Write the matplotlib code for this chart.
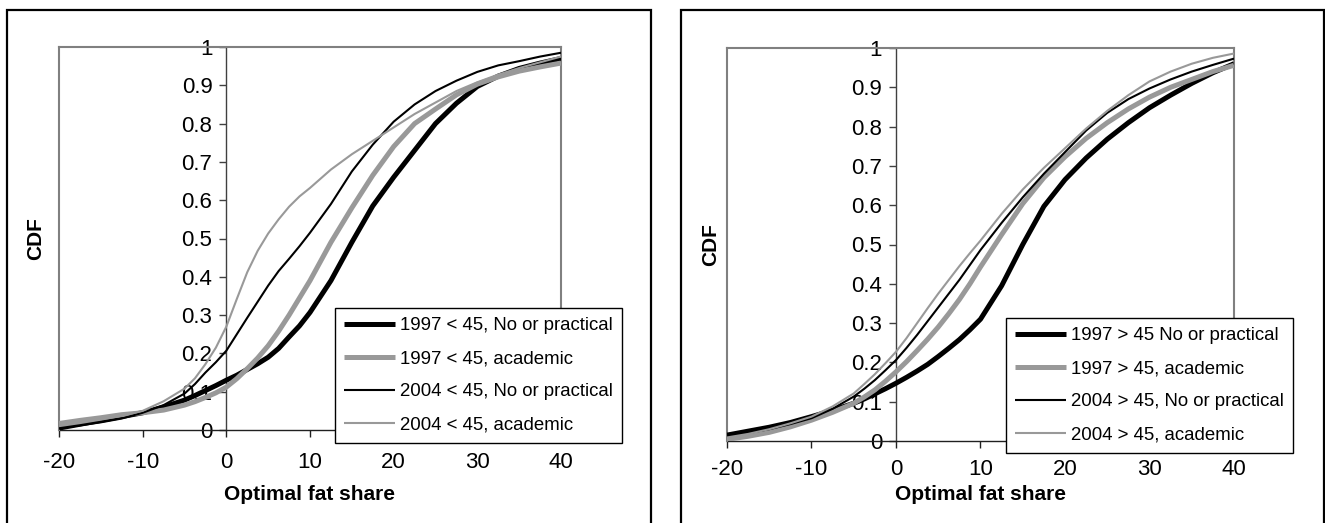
import matplotlib
matplotlib.use("Agg")
import matplotlib.pyplot as plt
from matplotlib.patches import Rectangle

plt.rcParams['font.family'] = ['Liberation Sans', 'DejaVu Sans']

# ---------------- data ----------------
x_vals = [-20, -17.5, -15, -12.5, -10, -7.5,
          -5, -3.75, -2.5, -1.25, 0, 1.25, 2.5, 3.75, 5, 6.25, 7.5, 8.75, 10,
          12.5, 15, 17.5, 20, 22.5, 25, 27.5, 30, 32.5, 35, 37.5, 40]

# Left panel (< 45)
left_labels = ["1997 < 45, No or practical", "1997 < 45, academic",
               "2004 < 45, No or practical", "2004 < 45, academic"]
left_1997_nop = [0.005, 0.015, 0.025, 0.035, 0.045, 0.06,
                 0.078, 0.09, 0.103, 0.116, 0.13, 0.143, 0.158, 0.173, 0.19, 0.213, 0.243, 0.272, 0.307,
                 0.39, 0.49, 0.585, 0.66, 0.73, 0.80, 0.853, 0.897, 0.924, 0.944, 0.958, 0.970]
left_1997_aca = [0.017, 0.025, 0.032, 0.04, 0.045, 0.052,
                 0.065, 0.074, 0.085, 0.097, 0.112, 0.134, 0.16, 0.188, 0.22, 0.258, 0.30, 0.345, 0.39,
                 0.49, 0.58, 0.665, 0.74, 0.80, 0.838, 0.875, 0.903, 0.922, 0.937, 0.948, 0.958]
left_2004_nop = [0.005, 0.012, 0.02, 0.03, 0.045, 0.065,
                 0.095, 0.12, 0.15, 0.177, 0.207, 0.25, 0.293, 0.335, 0.377, 0.415, 0.447, 0.48, 0.515,
                 0.59, 0.675, 0.745, 0.805, 0.85, 0.885, 0.912, 0.935, 0.952, 0.963, 0.975, 0.985]
left_2004_aca = [0.01, 0.018, 0.027, 0.037, 0.05, 0.075,
                 0.108, 0.135, 0.172, 0.215, 0.27, 0.342, 0.412, 0.468, 0.513, 0.55, 0.583, 0.61, 0.632,
                 0.68, 0.72, 0.755, 0.79, 0.825, 0.855, 0.885, 0.908, 0.928, 0.945, 0.96, 0.975]

# Right panel (> 45)
right_labels = ["1997 > 45 No or practical", "1997 > 45, academic",
                "2004 > 45, No or practical", "2004 > 45, academic"]
right_1997_nop = [0.015, 0.025, 0.035, 0.047, 0.062, 0.078,
                  0.096, 0.107, 0.12, 0.133, 0.147, 0.162, 0.178, 0.195, 0.215, 0.236, 0.258, 0.283, 0.31,
                  0.395, 0.50, 0.597, 0.665, 0.72, 0.768, 0.81, 0.848, 0.88, 0.91, 0.937, 0.96]
right_1997_aca = [0.004, 0.012, 0.022, 0.036, 0.053, 0.073,
                  0.096, 0.112, 0.13, 0.152, 0.176, 0.202, 0.23, 0.259, 0.29, 0.324, 0.36, 0.40, 0.443,
                  0.525, 0.604, 0.67, 0.723, 0.77, 0.81, 0.845, 0.875, 0.90, 0.92, 0.94, 0.956]
right_2004_nop = [0.011, 0.02, 0.03, 0.043, 0.058, 0.082,
                  0.113, 0.133, 0.155, 0.18, 0.206, 0.237, 0.27, 0.305, 0.34, 0.375, 0.41, 0.448, 0.486,
                  0.555, 0.62, 0.68, 0.735, 0.79, 0.835, 0.87, 0.897, 0.92, 0.94, 0.957, 0.973]
right_2004_aca = [0.009, 0.018, 0.03, 0.045, 0.062, 0.088,
                  0.121, 0.145, 0.17, 0.198, 0.227, 0.262, 0.30, 0.338, 0.375, 0.41, 0.445, 0.478, 0.51,
                  0.578, 0.64, 0.695, 0.745, 0.795, 0.84, 0.88, 0.915, 0.94, 0.96, 0.975, 0.986]

x_ticks = [-20, -10, 0, 10, 20, 30, 40]
x_ticklabels = ["-20", "-10", "0", "10", "20", "30", "40"]
y_ticks = [0, 0.1, 0.2, 0.3, 0.4, 0.5, 0.6, 0.7, 0.8, 0.9, 1.0]
y_ticklabels = ["0", "0.1", "0.2", "0.3", "0.4", "0.5", "0.6", "0.7", "0.8", "0.9", "1"]

# ---------------- style ----------------
W, H = 1325, 523
DPI = 100
fig = plt.figure(figsize=(W / DPI, H / DPI), dpi=DPI)

GRAY = "#999999"
BORDER = "#808080"
styles = [dict(color="black", lw=3.6), dict(color=GRAY, lw=3.6),
          dict(color="black", lw=1.5), dict(color=GRAY, lw=1.5)]


def px_box(x0, y0, x1, y1):
    return [x0 / W, 1 - y1 / H, (x1 - x0) / W, (y1 - y0) / H]


def outer_box(x0, y0, x1, y1):
    r = Rectangle((x0 / W, 1 - y1 / H), (x1 - x0) / W, (y1 - y0) / H,
                  transform=fig.transFigure, fill=False, edgecolor="black", lw=1.6)
    fig.patches.append(r)


def panel(axpx, series, labels, legpx, xlab_y, ylab_x, tick_pad):
    ax = fig.add_axes(px_box(*axpx))
    ax.set_xlim(-20, 40)
    ax.set_ylim(0, 1)
    for s, lab, st in zip(series, labels, styles):
        ax.plot(x_vals, s, label=lab, solid_capstyle="butt", solid_joinstyle="round",
                zorder=3, **st)
    # plot-area border
    for side in ["top", "right"]:
        ax.spines[side].set_color(BORDER)
        ax.spines[side].set_linewidth(1.5)
    ax.axvline(-20, color=BORDER, lw=1.5, zorder=2.6, clip_on=False)
    # axes crossing at 0
    ax.spines["left"].set_position(("data", 0))
    ax.spines["left"].set_color("#404040")
    ax.spines["left"].set_linewidth(1.0)
    ax.spines["bottom"].set_color("#202020")
    ax.spines["bottom"].set_linewidth(1.0)
    ax.set_xticks(x_ticks)
    ax.set_xticklabels(x_ticklabels)
    ax.set_yticks(y_ticks)
    ax.set_yticklabels(y_ticklabels)
    ax.tick_params(axis="x", direction="out", length=5, width=1, color="#202020",
                   labelsize=16, pad=tick_pad)
    ax.tick_params(axis="y", direction="out", length=5, width=1, color="#404040",
                   labelsize=16, pad=5)
    leg = ax.legend(loc="upper left", bbox_to_anchor=(legpx[0] / W, 1 - legpx[1] / H),
                    bbox_transform=fig.transFigure, borderaxespad=0, frameon=True,
                    fancybox=False, framealpha=1, edgecolor="black", fontsize=13.4,
                    handlelength=2.75, handletextpad=0.22, labelspacing=0.86,
                    borderpad=0.5)
    leg.get_frame().set_linewidth(1.0)
    cx = (axpx[0] + axpx[2]) / 2 / W
    cy = 1 - (axpx[1] + axpx[3]) / 2 / H
    fig.text(cx, 1 - xlab_y / H, "Optimal fat share", ha="center", va="center",
             fontsize=15, fontweight="bold")
    fig.text(ylab_x / W, cy, "CDF", ha="center", va="center", rotation=90,
             fontsize=15, fontweight="bold")
    return ax


outer_box(7, 10, 651, 530)
outer_box(681, 10, 1324, 530)

panel((59, 47, 561, 430),
      [left_1997_nop, left_1997_aca, left_2004_nop, left_2004_aca],
      left_labels, (335, 308), 495, 36, 11)
panel((727, 48, 1234, 441),
      [right_1997_nop, right_1997_aca, right_2004_nop, right_2004_aca],
      right_labels, (1006, 318), 495, 711, 8)

fig.savefig("out.png", dpi=DPI)
